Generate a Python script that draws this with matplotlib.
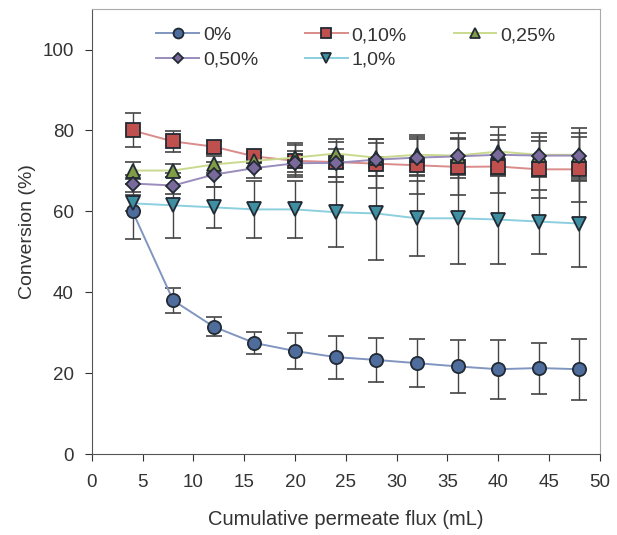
import matplotlib as mpl
mpl.use('Agg')
import matplotlib.pyplot as plt

plt.rcParams['font.family'] = ['Liberation Sans', 'DejaVu Sans']

flux = [4, 8, 12, 16, 20, 24, 28, 32, 36, 40, 44, 48]

conv_0 = [60.0, 38.0, 31.5, 27.5, 25.5, 24.0, 23.3, 22.5, 21.7, 21.0, 21.3, 21.0]
err_0 = [6.7, 3.0, 2.3, 2.8, 4.5, 5.3, 5.5, 6.0, 6.5, 7.3, 6.3, 7.5]

conv_010 = [80.0, 77.3, 76.0, 73.6, 72.5, 72.2, 71.8, 71.4, 71.0, 71.1, 70.4, 70.4]
err_010 = [4.2, 2.5, 1.5, 1.0, 4.0, 5.0, 6.0, 7.0, 7.0, 6.5, 7.0, 8.0]

conv_025 = [70.1, 70.1, 71.6, 72.5, 73.3, 74.3, 73.3, 74.0, 73.8, 74.8, 74.0, 74.0]
err_025 = [2.0, 1.5, 2.0, 2.0, 3.5, 3.5, 4.5, 5.0, 5.5, 6.0, 5.5, 6.5]

conv_050 = [66.9, 66.4, 69.1, 70.7, 71.9, 72.0, 72.8, 73.3, 73.6, 74.0, 73.8, 73.8]
err_050 = [2.0, 2.0, 3.0, 2.5, 3.0, 3.5, 4.0, 4.5, 4.5, 5.0, 4.5, 5.5]

conv_10 = [62.0, 61.5, 61.0, 60.5, 60.5, 59.8, 59.5, 58.3, 58.3, 58.0, 57.5, 57.0]
err_10 = [2.0, 8.0, 5.0, 7.0, 7.0, 8.7, 11.4, 9.2, 11.2, 11.1, 7.9, 10.8]

labels = ['0%', '0,10%', '0,25%', '0,50%', '1,0%']

fig = plt.figure(figsize=(6.17, 5.35), dpi=100)
ax = fig.add_axes([0.149, 0.151, 0.823, 0.832])

styles = [
    (conv_0, err_0, 'o', '#4f6d9c', '#8096c0', 9.5),
    (conv_010, err_010, 's', '#c0504d', '#d98c8a', 9.5),
    (conv_025, err_025, '^', '#809c46', '#c9da8e', 10),
    (conv_050, err_050, 'D', '#7a6a9c', '#9a8cbc', 7),
    (conv_10, err_10, 'v', '#3f8fa3', '#8ccfdf', 10),
]

# error bars first so the markers sit on top
for vals, errs, mk, face, line, ms in styles:
    ax.errorbar(flux, vals, yerr=errs, fmt='none', ecolor='#444444',
                elinewidth=1.0, capsize=6, capthick=1.2, zorder=2)

handles = []
for (vals, errs, mk, face, line, ms), lab in zip(styles, labels):
    h, = ax.plot(flux, vals, color=line, linewidth=1.4, marker=mk, markersize=ms,
                 markerfacecolor=face, markeredgecolor='#222a33',
                 markeredgewidth=1.3, label=lab, zorder=3)
    handles.append(h)

ax.set_xlim(0, 50)
ax.set_ylim(0, 110)
ax.set_xticks(range(0, 51, 5))
ax.set_yticks(range(0, 101, 20))
ax.tick_params(direction='out', length=5, labelsize=13.5, colors='#333333')
ax.tick_params(axis='x', pad=9)
ax.tick_params(axis='y', pad=8)

for side in ['top', 'right']:
    ax.spines[side].set_color('#aaaaaa')
for side in ['left', 'bottom']:
    ax.spines[side].set_color('#555555')

ax.set_xlabel('Cumulative permeate flux (mL)', fontsize=14.5, color='#333333', labelpad=14)
ax.set_ylabel('Conversion (%)', fontsize=14, color='#333333', labelpad=5)

# legend is filled column by column, so reorder to read row by row
order = [0, 3, 1, 4, 2]
ax.legend([handles[i] for i in order], [labels[i] for i in order],
          loc='upper center', ncol=3, frameon=False, fontsize=14,
          bbox_to_anchor=(0.52, 1.0), borderaxespad=0.5, markerscale=0.75,
          handlelength=2.2, columnspacing=2.4,
          handletextpad=0.2, labelspacing=0.35, labelcolor='#333333')

fig.savefig('out.png', dpi=100)
